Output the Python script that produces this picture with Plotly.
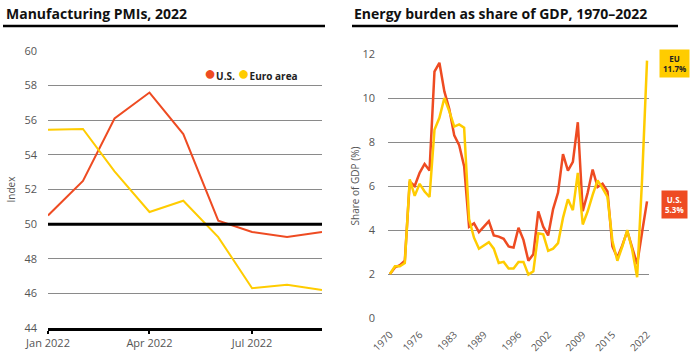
import plotly.graph_objects as go

# ---------------- data ----------------
pmi_months = ["2022-01-01", "2022-02-01", "2022-03-01", "2022-04-01", "2022-05-01",
              "2022-06-01", "2022-07-01", "2022-08-01", "2022-09-01"]
pmi_us = [50.5, 52.5, 56.1, 57.6, 55.2, 50.2, 49.55, 49.25, 49.55]
pmi_euro = [55.45, 55.5, 53.05, 50.7, 51.35, 49.25, 46.3, 46.5, 46.2]
pmi_ticks = ["2022-01-01", "2022-04-01", "2022-07-01"]
pmi_ticktext = ["Jan 2022", "Apr 2022", "Jul 2022"]
series_names = ["U.S.", "Euro area"]

years = list(range(1970, 2023))
energy_us = [2.0, 2.3, 2.4, 2.6, 6.2, 6.0, 6.6, 7.0, 6.7, 11.2,
             11.6, 10.3, 9.5, 8.3, 7.85, 6.9, 4.15, 4.3, 3.9, 4.15,
             4.4, 3.75, 3.7, 3.6, 3.25, 3.2, 4.1, 3.55, 2.6, 2.9,
             4.85, 4.15, 3.75, 4.95, 5.7, 7.45, 6.7, 7.1, 8.9, 4.85,
             5.7, 6.75, 5.95, 6.1, 5.75, 3.25, 2.75, 3.3, 3.95, 3.2,
             2.45, 3.9, 5.3]
energy_eu = [2.0, 2.35, 2.35, 2.5, 6.3, 5.55, 6.1, 5.75, 5.5, 8.55,
             9.1, 10.0, 9.4, 8.7, 8.8, 8.65, 4.5, 3.65, 3.15, 3.3,
             3.45, 3.15, 2.5, 2.55, 2.25, 2.25, 2.55, 2.55, 1.97, 2.12,
             3.85, 3.8, 3.05, 3.15, 3.4, 4.55, 5.4, 4.9, 6.6, 4.25,
             4.85, 5.6, 6.25, 5.9, 5.5, 3.5, 2.6, 3.25, 4.0, 3.1,
             1.85, 6.3, 11.7]
energy_ticks = [1970, 1976, 1983, 1989, 1996, 2002, 2009, 2015, 2022]

RED = "#EE4B22"
YEL = "#FFCC00"
W, H = 698, 354
FONT = "Open Sans"

def px_x(p):
    return p / W

def px_y(p):
    return 1 - p / H

fig = go.Figure()

# left chart
fig.add_trace(go.Scatter(x=pmi_months, y=pmi_us, mode="lines", line=dict(color=RED, width=2),
                         name=series_names[0], showlegend=False, xaxis="x", yaxis="y"))
fig.add_trace(go.Scatter(x=pmi_months, y=pmi_euro, mode="lines", line=dict(color=YEL, width=2),
                         name=series_names[1], showlegend=False, xaxis="x", yaxis="y"))

# right chart
fig.add_trace(go.Scatter(x=years, y=energy_us, mode="lines", line=dict(color=RED, width=2.5),
                         showlegend=False, xaxis="x2", yaxis="y2"))
fig.add_trace(go.Scatter(x=years, y=energy_eu, mode="lines", line=dict(color=YEL, width=2.5),
                         showlegend=False, xaxis="x2", yaxis="y2"))

tickfont = dict(family=FONT, size=11, color="#555")
grid = "#8a8a8a"

fig.update_layout(
    width=W, height=H,
    margin=dict(l=0, r=0, t=0, b=0, autoexpand=False),
    paper_bgcolor="white", plot_bgcolor="white",
    font=dict(family=FONT, color="#333"),
    showlegend=False,
    xaxis=dict(domain=[px_x(48), px_x(322)], type="date", automargin=False,
               range=["2022-01-01", "2022-09-01"],
               tickvals=pmi_ticks, ticktext=pmi_ticktext, tickfont=tickfont,
               showgrid=False, zeroline=False,
               showline=True, linecolor="black", linewidth=3,
               ticks="outside", ticklen=3, tickwidth=2, tickcolor="black"),
    yaxis=dict(domain=[px_y(328), px_y(51)], range=[44, 60], dtick=2, automargin=False,
               tickfont=tickfont, showgrid=True, gridcolor=grid, gridwidth=1,
               zeroline=False, ticklabelstandoff=10,
               title=dict(text="Index", font=dict(family=FONT, size=10, color="#555"), standoff=6)),
    xaxis2=dict(domain=[px_x(388), px_x(649)], range=[1969.6, 2022.4], automargin=False,
                tickvals=energy_ticks, tickangle=-45,
                tickfont=dict(family=FONT, size=10, color="#555"),
                ticklabelstandoff=-2,
                showgrid=False, zeroline=False, showline=False, ticks=""),
    yaxis2=dict(domain=[px_y(318), px_y(54)], range=[0, 12], dtick=2, anchor="x2",
                automargin=False,
                tickfont=tickfont, showgrid=True, gridcolor=grid, gridwidth=1,
                zeroline=False, ticklabelstandoff=12,
                title=dict(text="Share of GDP (%)", font=dict(family=FONT, size=10, color="#555"), standoff=0)),
)

shapes = [
    # 50 threshold line
    dict(type="line", xref="x domain", yref="y", x0=0, x1=1, y0=50, y1=50,
         line=dict(color="black", width=3)),
    # title rules
    dict(type="line", xref="paper", yref="paper", x0=px_x(3), x1=px_x(325),
         y0=px_y(26), y1=px_y(26), line=dict(color="black", width=2.5)),
    dict(type="line", xref="paper", yref="paper", x0=px_x(352), x1=px_x(678),
         y0=px_y(26), y1=px_y(26), line=dict(color="black", width=2.5)),
]
fig.update_layout(shapes=shapes)

legend_text = ("<span style='color:%s;font-size:20px'>●</span><b>%s</b> "
               "<span style='color:%s;font-size:20px'>●</span><b>%s</b>"
               % (RED, series_names[0], YEL, series_names[1]))

annotations = [
    dict(text="<b>Manufacturing PMIs, 2022</b>", xref="paper", yref="paper",
         x=px_x(4), y=px_y(13), xanchor="left", yanchor="middle", showarrow=False,
         font=dict(family=FONT, size=14, color="#111", weight=800)),
    dict(text="<b>Energy burden as share of GDP, 1970–2022</b>", xref="paper", yref="paper",
         x=px_x(352), y=px_y(13), xanchor="left", yanchor="middle", showarrow=False,
         font=dict(family=FONT, size=14, color="#111", weight=800)),
    dict(text=legend_text, xref="paper", yref="paper",
         x=px_x(202), y=px_y(72), xanchor="left", yanchor="middle", showarrow=False,
         font=dict(family=FONT, size=10, color="#222")),
    dict(text="<b>EU<br>%.1f%%</b>" % energy_eu[-1], xref="paper", yref="y2",
         x=px_x(674), y=energy_eu[-1], xanchor="center", yanchor="middle", yshift=-3,
         showarrow=False, bgcolor=YEL, borderpad=3,
         font=dict(family=FONT, size=8, color="#222")),
    dict(text="<b>U.S.<br>%.1f%%</b>" % energy_us[-1], xref="paper", yref="y2",
         x=px_x(674), y=energy_us[-1], xanchor="center", yanchor="middle", yshift=-3,
         showarrow=False, bgcolor=RED, borderpad=3,
         font=dict(family=FONT, size=8, color="white")),
]
fig.update_layout(annotations=annotations)

fig.write_html("out.html")
